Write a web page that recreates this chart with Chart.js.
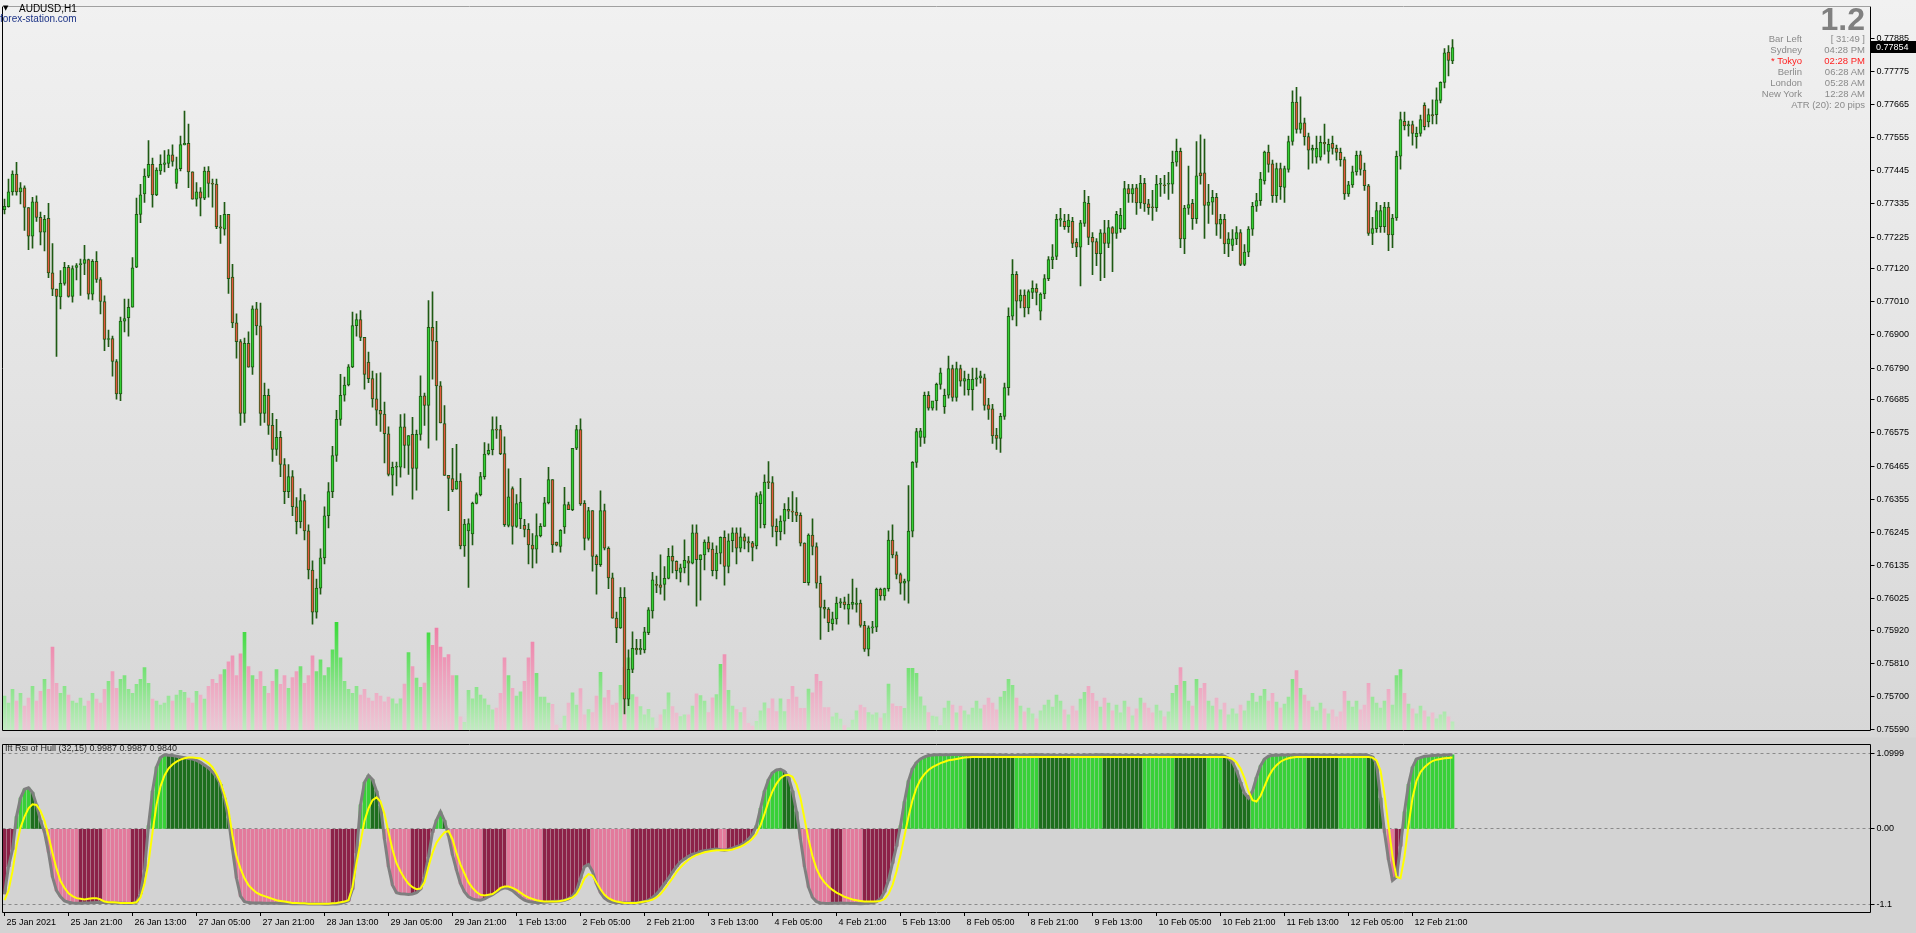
<!DOCTYPE html>
<html>
<head>
<meta charset="utf-8">
<title>AUDUSD,H1</title>
<script src="https://cdn.jsdelivr.net/npm/chart.js@4.4.1/dist/chart.umd.min.js"></script>
<style>
html, body { margin: 0; padding: 0; }
body {
  width: 1916px; height: 933px; overflow: hidden; position: relative;
  background: linear-gradient(to bottom, #f1f1f1 0px, #d7d7d7 737px, #d3d3d3 738px, #d3d3d3 933px);
  font-family: "Liberation Sans", Arial, sans-serif;
}
canvas { position: absolute; left: 0; }
#main { top: 0; }
#ind { top: 738px; }
.t { position: absolute; white-space: nowrap; line-height: 11px; font-size: 9.5px; }
#sym { left: 19px; top: 3px; font-size: 10px; color: #000; }
#tri { left: 3px; top: 3px; font-family: "DejaVu Sans"; font-size: 7px; color: #000; }
#site { left: 0px; top: 13px; font-size: 10px; color: #1b3286; }
#big { right: 51px; top: 3px; font-size: 32px; line-height: 32px; font-weight: bold; color: #808080; }
#legend { left: 5px; top: 743px; font-size: 9px; color: #1e1e1e; }
</style>
</head>
<body>
<canvas id="main" width="1916" height="738"></canvas>
<canvas id="ind" width="1916" height="195"></canvas>
<div class="t" id="tri">▼</div>
<div class="t" id="sym">AUDUSD,H1</div>
<div class="t" id="site">forex-station.com</div>
<div class="t" id="big">1.2</div>
<div class="t" id="legend">Ift Rsi of Hull (32,15) 0.9987 0.9987 0.9840</div>
<div id="info"></div>
<script>
// hourly AUDUSD bars
var opens = [
.77316,.77326,.77375,.77434,.77375,.77388,.77323,.77228,.77342,.77290,
.77241,.77287,.77106,.77052,.77026,.77071,.77124,.77028,.77124,.77133,
.77137,.77150,.77035,.77144,.77084,.77011,.76885,.76888,.76812,.76704,
.76946,.76957,.76992,.77125,.77300,.77368,.77427,.77466,.77365,.77444,
.77466,.77469,.77498,.77403,.77452,.77531,.77536,.77441,.77351,.77375,
.77354,.77444,.77403,.77401,.77259,.77251,.77300,.77092,.76940,.76878,
.76640,.76872,.76793,.76987,.76930,.76640,.76700,.76600,.76520,.76560,
.76470,.76380,.76430,.76330,.76280,.76350,.76250,.76120,.75980,.76060,
.76160,.76300,.76380,.76500,.76620,.76700,.76734,.76794,.76931,.76951,
.76892,.76810,.76755,.76688,.76650,.76637,.76572,.76435,.76461,.76461,
.76595,.76533,.76570,.76457,.76570,.76698,.76666,.76925,.76879,.76731,
.76606,.76434,.76423,.76388,.76415,.76200,.76250,.76240,.76341,.76370,
.76430,.76505,.76519,.76586,.76586,.76506,.76268,.76390,.76265,.76290,
.76268,.76255,.76203,.76189,.76234,.76265,.76343,.76420,.76213,.76198,
.76263,.76337,.76320,.76524,.76586,.76341,.76225,.76317,.76165,.76138,
.76317,.76192,.76094,.75960,.75928,.76029,.75691,.75790,.75860,.75855,
.75855,.75912,.75984,.76070,.76071,.76072,.76092,.76165,.76149,.76112,
.76127,.76150,.76143,.76243,.76154,.76170,.76213,.76189,.76118,.76176,
.76228,.76132,.76217,.76243,.76192,.76230,.76214,.76210,.76200,.76340,
.76270,.76412,.76410,.76265,.76247,.76282,.76321,.76315,.76312,.76301,
.76209,.76078,.76236,.76198,.76076,.75996,.75990,.75942,.75958,.76010,
.76014,.75990,.76006,.76006,.76010,.75936,.75857,.75928,.75930,.76056,
.76034,.76058,.76219,.76170,.76105,.76076,.76083,.76249,.76477,.76560,
.76560,.76700,.76657,.76682,.76736,.76662,.76700,.76788,.76693,.76788,
.76747,.76718,.76718,.76753,.76758,.76758,.76668,.76655,.76568,.76557,
.76630,.76725,.76962,.77101,.77012,.77032,.76990,.77041,.77055,.76979,
.77036,.77087,.77150,.77161,.77281,.77277,.77259,.77277,.77207,.77191,
.77270,.77337,.77224,.77210,.77170,.77239,.77204,.77256,.77237,.77253,
.77253,.77386,.77368,.77388,.77338,.77403,.77335,.77324,.77322,.77400,
.77397,.77400,.77400,.77473,.77509,.77219,.77321,.77337,.77286,.77438,
.77438,.77330,.77341,.77357,.77268,.77284,.77202,.77197,.77219,.77240,
.77134,.77175,.77251,.77327,.77346,.77411,.77507,.77468,.77362,.77452,
.77390,.77449,.77542,.77673,.77582,.77604,.77558,.77513,.77490,.77490,
.77539,.77509,.77536,.77519,.77506,.77482,.77368,.77398,.77441,.77498,
.77447,.77395,.77237,.77253,.77259,.77259,.77324,.77232,.77288,.77493,
.77609,.77594,.77598,.77558,.77569,.77662,.77607,.77631,.77631,.77678,
.77738,.77839,.77809];

var highs = [
.77351,.77417,.77445,.77473,.77406,.77395,.77323,.77357,.77362,.77308,
.77297,.77337,.77203,.77052,.77114,.77141,.77131,.77129,.77137,.77152,
.77197,.77152,.77150,.77177,.77090,.77030,.76916,.76896,.76818,.76959,
.77019,.77019,.77157,.77354,.77400,.77451,.77545,.77487,.77455,.77498,
.77512,.77515,.77531,.77490,.77560,.77643,.77600,.77441,.77406,.77389,
.77457,.77459,.77417,.77417,.77297,.77340,.77300,.77134,.76970,.76885,
.76890,.76910,.76997,.77008,.77006,.76740,.76720,.76640,.76620,.76580,
.76490,.76470,.76450,.76360,.76390,.76370,.76270,.76150,.76090,.76190,
.76330,.76410,.76530,.76650,.76769,.76760,.76802,.76976,.76970,.76981,
.76892,.76843,.76780,.76772,.76774,.76677,.76595,.76478,.76478,.76636,
.76638,.76566,.76627,.76584,.76764,.76707,.77014,.77043,.76945,.76745,
.76666,.76434,.76524,.76537,.76440,.76288,.76290,.76345,.76376,.76444,
.76543,.76539,.76628,.76628,.76600,.76562,.76456,.76396,.76370,.76424,
.76288,.76274,.76241,.76306,.76274,.76361,.76461,.76420,.76213,.76254,
.76394,.76345,.76524,.76600,.76622,.76350,.76328,.76317,.76170,.76383,
.76339,.76197,.76110,.75980,.76062,.76062,.75855,.75915,.75890,.75890,
.75930,.75995,.76112,.76100,.76170,.76131,.76192,.76200,.76150,.76140,
.76220,.76165,.76270,.76270,.76170,.76220,.76230,.76210,.76200,.76230,
.76250,.76240,.76260,.76260,.76260,.76240,.76230,.76215,.76376,.76380,
.76436,.76480,.76430,.76290,.76300,.76340,.76360,.76380,.76360,.76310,
.76210,.76240,.76290,.76210,.76100,.76020,.75995,.75980,.76030,.76025,
.76030,.76040,.76090,.76060,.76020,.75950,.75935,.75950,.76060,.76060,
.76060,.76250,.76270,.76180,.76110,.76090,.76400,.76480,.76590,.76590,
.76710,.76712,.76680,.76740,.76790,.76720,.76830,.76800,.76810,.76800,
.76780,.76770,.76790,.76790,.76780,.76770,.76690,.76670,.76590,.76640,
.76740,.76990,.77150,.77110,.77050,.77050,.77050,.77080,.77070,.77040,
.77100,.77160,.77200,.77300,.77320,.77300,.77300,.77290,.77220,.77280,
.77380,.77360,.77240,.77220,.77250,.77280,.77280,.77260,.77310,.77320,
.77410,.77400,.77400,.77400,.77430,.77420,.77350,.77380,.77430,.77420,
.77430,.77440,.77510,.77550,.77520,.77330,.77460,.77350,.77542,.77564,
.77550,.77400,.77380,.77370,.77300,.77300,.77240,.77250,.77260,.77250,
.77200,.77260,.77340,.77370,.77440,.77510,.77530,.77480,.77470,.77470,
.77460,.77560,.77710,.77722,.77690,.77620,.77570,.77530,.77560,.77560,
.77600,.77550,.77560,.77530,.77520,.77490,.77410,.77460,.77510,.77510,
.77470,.77400,.77290,.77340,.77330,.77340,.77340,.77300,.77510,.77640,
.77640,.77610,.77610,.77590,.77630,.77670,.77650,.77680,.77720,.77740,
.77850,.77860,.77880];

var lows = [
.77302,.77324,.77364,.77364,.77335,.77247,.77183,.77188,.77277,.77199,
.77179,.77090,.77030,.76829,.76986,.77065,.77025,.77009,.77083,.77031,
.77100,.77019,.77016,.77074,.76970,.76848,.76861,.76763,.76687,.76682,
.76910,.76896,.76992,.77123,.77273,.77340,.77422,.77324,.77362,.77433,
.77441,.77455,.77460,.77386,.77444,.77531,.77389,.77351,.77327,.77295,
.77349,.77357,.77324,.77253,.77204,.77231,.77038,.76924,.76823,.76600,
.76610,.76793,.76769,.76900,.76600,.76610,.76570,.76480,.76500,.76430,
.76340,.76360,.76300,.76240,.76260,.76220,.76090,.75940,.75960,.76040,
.76140,.76260,.76360,.76480,.76600,.76680,.76731,.76791,.76896,.76881,
.76720,.76742,.76660,.76600,.76580,.76475,.76432,.76368,.76399,.76428,
.76459,.76437,.76355,.76385,.76551,.76600,.76524,.76753,.76551,.76608,
.76434,.76317,.76380,.76388,.76190,.76165,.76062,.76203,.76339,.76366,
.76421,.76502,.76502,.76557,.76503,.76265,.76263,.76206,.76261,.76257,
.76230,.76140,.76127,.76143,.76230,.76265,.76339,.76178,.76200,.76179,
.76241,.76320,.76317,.76519,.76334,.76187,.76219,.76116,.76040,.76132,
.76187,.76058,.75960,.75879,.75926,.75642,.75670,.75779,.75840,.75840,
.75845,.75905,.75960,.76045,.76040,.76020,.76090,.76110,.76090,.76080,
.76110,.76070,.76140,.76000,.76020,.76120,.76180,.76100,.76090,.76140,
.76070,.76110,.76180,.76140,.76180,.76190,.76180,.76150,.76190,.76260,
.76260,.76390,.76230,.76200,.76220,.76240,.76290,.76280,.76280,.76200,
.76080,.76070,.76170,.76060,.75890,.75960,.75915,.75920,.75940,.75995,
.75990,.75940,.75990,.75980,.75930,.75850,.75835,.75910,.75915,.76020,
.76020,.76050,.76160,.76090,.76040,.76020,.76010,.76230,.76460,.76530,
.76540,.76650,.76650,.76650,.76720,.76640,.76690,.76680,.76680,.76730,
.76700,.76700,.76650,.76730,.76740,.76650,.76620,.76540,.76520,.76510,
.76620,.76700,.76950,.76930,.76990,.76960,.76970,.77020,.77000,.76950,
.77020,.77080,.77120,.77150,.77260,.77250,.77240,.77190,.77160,.77063,
.77260,.77200,.77100,.77130,.77080,.77090,.77190,.77110,.77220,.77240,
.77250,.77340,.77340,.77300,.77320,.77310,.77300,.77280,.77310,.77360,
.77370,.77350,.77370,.77460,.77190,.77170,.77300,.77250,.77270,.77400,
.77220,.77270,.77300,.77230,.77220,.77170,.77160,.77180,.77200,.77130,
.77130,.77160,.77230,.77310,.77330,.77400,.77440,.77340,.77340,.77350,
.77340,.77440,.77530,.77570,.77570,.77530,.77450,.77470,.77470,.77480,
.77500,.77470,.77500,.77480,.77460,.77350,.77360,.77390,.77430,.77430,
.77380,.77230,.77200,.77240,.77240,.77240,.77180,.77190,.77280,.77450,
.77580,.77560,.77530,.77520,.77560,.77580,.77590,.77600,.77600,.77670,
.77720,.77760,.77800];

var closes = [
.77327,.77375,.77434,.77375,.77388,.77323,.77228,.77342,.77290,.77241,
.77284,.77106,.77052,.77028,.77071,.77124,.77028,.77120,.77130,.77137,
.77150,.77035,.77144,.77084,.77011,.76885,.76888,.76812,.76704,.76946,
.76954,.76992,.77123,.77300,.77365,.77427,.77466,.77365,.77447,.77466,
.77471,.77498,.77476,.77451,.77532,.77536,.77441,.77351,.77375,.77354,
.77444,.77403,.77400,.77259,.77254,.77300,.77087,.76940,.76878,.76640,
.76872,.76793,.76987,.76930,.76640,.76700,.76600,.76520,.76560,.76470,
.76380,.76430,.76330,.76280,.76350,.76250,.76120,.75980,.76060,.76160,
.76300,.76380,.76500,.76620,.76700,.76734,.76794,.76931,.76951,.76892,
.76769,.76755,.76688,.76650,.76637,.76572,.76437,.76461,.76462,.76595,
.76533,.76566,.76457,.76570,.76697,.76666,.76925,.76879,.76731,.76608,
.76434,.76424,.76386,.76415,.76200,.76272,.76274,.76341,.76370,.76430,
.76505,.76517,.76586,.76584,.76506,.76270,.76363,.76265,.76340,.76345,
.76255,.76203,.76189,.76234,.76265,.76343,.76420,.76203,.76202,.76252,
.76337,.76320,.76524,.76586,.76339,.76225,.76317,.76165,.76138,.76317,
.76192,.76094,.75960,.75928,.76029,.75691,.75790,.75860,.75855,.75860,
.75915,.75988,.76087,.76069,.76062,.76092,.76165,.76149,.76118,.76127,
.76152,.76143,.76243,.76154,.76170,.76213,.76189,.76118,.76176,.76228,
.76132,.76217,.76243,.76192,.76230,.76216,.76210,.76195,.76366,.76370,
.76412,.76410,.76265,.76247,.76282,.76321,.76315,.76312,.76301,.76209,
.76078,.76236,.76198,.76076,.75996,.75990,.75945,.75958,.76010,.76014,
.76004,.76006,.76013,.76010,.75936,.75857,.75928,.75930,.76056,.76034,
.76058,.76219,.76170,.76105,.76076,.76083,.76249,.76477,.76579,.76582,
.76700,.76657,.76681,.76736,.76774,.76700,.76788,.76693,.76788,.76747,
.76755,.76753,.76753,.76758,.76764,.76666,.76653,.76565,.76557,.76630,
.76725,.76962,.77101,.77012,.77032,.76990,.77044,.77055,.77041,.77036,
.77087,.77150,.77159,.77284,.77286,.77259,.77281,.77204,.77191,.77272,
.77341,.77224,.77208,.77170,.77239,.77204,.77256,.77237,.77300,.77297,
.77386,.77368,.77386,.77338,.77403,.77335,.77322,.77322,.77400,.77403,
.77395,.77403,.77473,.77509,.77219,.77321,.77333,.77286,.77428,.77428,
.77330,.77341,.77357,.77268,.77284,.77202,.77219,.77219,.77240,.77134,
.77175,.77251,.77327,.77346,.77417,.77507,.77466,.77362,.77452,.77392,
.77452,.77542,.77673,.77582,.77604,.77558,.77513,.77519,.77519,.77539,
.77534,.77533,.77519,.77506,.77482,.77368,.77398,.77441,.77496,.77449,
.77395,.77237,.77253,.77313,.77313,.77324,.77232,.77288,.77493,.77615,
.77594,.77598,.77569,.77569,.77615,.77591,.77631,.77627,.77680,.77738,
.77836,.77811,.77854];

// tick volume (arbitrary units)
var volumes = [
350,280,420,300,380,250,330,450,300,400,
520,420,850,480,380,450,360,300,280,330,
250,300,380,320,280,420,500,600,430,520,
560,420,380,470,520,640,480,320,300,260,
280,350,300,360,410,390,330,280,400,360,
320,450,520,480,570,620,700,760,560,780,
1000,650,560,520,600,450,380,500,620,470,
560,430,540,600,650,480,560,760,600,720,
560,640,820,1100,740,500,420,380,450,360,
420,330,300,380,350,293,340,323,273,323,
473,793,650,533,440,483,993,867,1043,850,
743,773,560,560,140,83,410,323,440,360,
323,260,210,230,380,740,560,430,350,393,
500,740,900,583,340,340,280,267,57,23,
147,280,383,260,427,160,213,183,350,593,
333,410,260,280,460,640,740,367,340,243,
160,217,130,23,160,213,383,243,177,143,
160,160,250,373,357,300,183,333,367,673,
773,410,250,213,183,233,73,47,93,200,
283,223,323,193,323,193,317,450,340,227,
227,423,383,573,500,233,233,140,177,117,
50,27,107,200,260,233,183,160,180,127,
173,473,273,247,247,227,633,633,583,343,
253,183,147,140,50,230,300,260,180,250,
200,160,230,300,220,260,330,280,210,340,
400,520,460,330,250,190,230,170,120,200,
260,310,240,360,300,210,160,250,200,320,
390,450,380,300,240,330,280,200,260,180,
300,240,150,220,330,280,230,180,260,200,
140,190,380,460,640,500,300,250,520,430,
480,300,250,330,210,280,160,220,170,260,
200,300,380,290,350,420,300,380,290,230,
270,340,520,610,430,360,300,240,200,280,
220,170,210,140,190,400,300,240,300,210,
260,480,340,280,230,300,420,260,560,620,
380,270,220,170,250,200,140,180,120,160,
190,140,90];

// Ift Rsi of Hull (32,15): histogram and signal
var ift = [
-0.95,-0.55,-0.30,0.18,0.45,0.58,0.60,0.53,0.35,0.12,
-0.05,-0.34,-0.70,-0.90,-0.99,-1.05,-1.07,-1.08,-1.085,-1.083,
-1.081,-1.079,-1.077,-1.075,-1.073,-1.075,-1.077,-1.079,-1.081,-1.083,
-1.085,-1.087,-1.085,-1.07,-0.95,-0.60,0.05,0.55,0.90,1.04,
1.08,1.075,1.07,1.06,1.05,1.04,1.025,1.02,1.00,0.97,
0.93,0.89,0.83,0.76,0.65,0.45,0.15,-0.30,-0.72,-0.98,
-1.06,-1.075,-1.080,-1.081,-1.082,-1.083,-1.084,-1.085,-1.086,-1.087,
-1.088,-1.089,-1.090,-1.091,-1.092,-1.093,-1.094,-1.095,-1.096,-1.097,
-1.098,-1.099,-1.097,-1.094,-1.09,-1.07,-1.05,-0.88,-0.35,0.35,
0.68,0.78,0.72,0.55,0.33,-0.15,-0.55,-0.82,-0.93,-0.945,
-0.95,-0.955,-0.95,-0.93,-0.88,-0.70,-0.40,-0.05,0.13,0.25,
0.12,-0.10,-0.38,-0.60,-0.80,-0.92,-0.99,-1.02,-1.035,-1.04,
-1.02,-0.99,-0.96,-0.92,-0.88,-0.86,-0.87,-0.90,-0.95,-1.00,
-1.04,-1.06,-1.07,-1.072,-1.074,-1.07,-1.065,-1.06,-1.055,-1.05,
-1.04,-1.02,-0.98,-0.90,-0.72,-0.55,-0.52,-0.62,-0.80,-0.93,
-1.01,-1.05,-1.07,-1.075,-1.078,-1.08,-1.082,-1.08,-1.076,-1.07,
-1.06,-1.04,-1.00,-0.95,-0.88,-0.80,-0.72,-0.63,-0.55,-0.48,
-0.44,-0.40,-0.37,-0.36,-0.33,-0.32,-0.31,-0.30,-0.295,-0.305,
-0.31,-0.30,-0.28,-0.26,-0.24,-0.20,-0.15,-0.08,0.05,0.30,
0.55,0.72,0.82,0.86,0.87,0.84,0.75,0.55,0.25,-0.15,
-0.55,-0.85,-1.00,-1.06,-1.08,-1.085,-1.087,-1.085,-1.083,-1.081,
-1.083,-1.085,-1.087,-1.089,-1.09,-1.088,-1.085,-1.08,-1.06,-1.02,
-0.92,-0.75,-0.50,-0.25,0.05,0.40,0.70,0.88,0.97,1.02,
1.05,1.07,1.078,1.080,1.081,1.082,1.083,1.084,1.085,1.086,
1.087,1.086,1.085,1.084,1.083,1.082,1.081,1.080,1.079,1.078,
1.077,1.076,1.075,1.076,1.077,1.078,1.079,1.080,1.081,1.080,
1.079,1.078,1.077,1.076,1.075,1.074,1.073,1.074,1.075,1.076,
1.077,1.078,1.079,1.080,1.081,1.080,1.079,1.078,1.077,1.076,
1.075,1.074,1.073,1.072,1.071,1.072,1.073,1.074,1.075,1.076,
1.077,1.078,1.079,1.078,1.077,1.076,1.075,1.074,1.073,1.072,
1.071,1.072,1.073,1.074,1.075,1.06,1.03,0.97,0.85,0.68,
0.52,0.45,0.55,0.75,0.92,1.02,1.06,1.075,1.076,1.077,
1.078,1.079,1.080,1.081,1.082,1.083,1.082,1.081,1.080,1.079,
1.078,1.077,1.076,1.075,1.076,1.077,1.078,1.079,1.080,1.081,
1.082,1.07,1.05,0.95,0.45,-0.05,-0.45,-0.75,-0.70,-0.25,
0.25,0.65,0.90,1.02,1.04,1.06,1.065,1.07,1.073,1.076,
1.078,1.080,1.082];

var signal = [
-1.04,-0.90,-0.62,-0.25,0.02,0.18,0.30,0.36,0.35,0.26,
0.12,-0.10,-0.35,-0.58,-0.76,-0.86,-0.94,-0.98,-1.01,-1.02,
-1.03,-1.02,-1.01,-1.01,-1.03,-1.06,-1.07,-1.07,-1.075,-1.08,
-1.08,-1.08,-1.08,-1.07,-1.00,-0.80,-0.50,-0.05,0.35,0.62,
0.78,0.88,0.94,0.98,1.01,1.03,1.04,1.04,1.035,1.03,
1.00,0.96,0.90,0.80,0.68,0.50,0.28,-0.10,-0.40,-0.58,
-0.72,-0.82,-0.88,-0.93,-0.96,-0.98,-1.00,-1.02,-1.04,-1.05,
-1.06,-1.07,-1.08,-1.08,-1.085,-1.085,-1.09,-1.09,-1.09,-1.09,
-1.09,-1.09,-1.085,-1.08,-1.07,-1.06,-1.04,-0.85,-0.50,-0.20,
0.12,0.30,0.42,0.46,0.40,0.22,-0.05,-0.30,-0.50,-0.62,
-0.72,-0.80,-0.85,-0.88,-0.87,-0.78,-0.55,-0.35,-0.20,-0.12,
-0.05,-0.03,-0.15,-0.35,-0.52,-0.65,-0.78,-0.86,-0.92,-0.96,
-0.97,-0.96,-0.95,-0.91,-0.86,-0.84,-0.84,-0.86,-0.89,-0.93,
-0.97,-1.00,-1.02,-1.04,-1.05,-1.06,-1.06,-1.06,-1.06,-1.05,
-1.04,-1.02,-1.00,-0.95,-0.85,-0.72,-0.66,-0.68,-0.78,-0.88,
-0.96,-1.01,-1.04,-1.06,-1.07,-1.08,-1.08,-1.08,-1.08,-1.07,
-1.06,-1.05,-1.03,-1.00,-0.95,-0.88,-0.80,-0.72,-0.63,-0.56,
-0.50,-0.45,-0.41,-0.38,-0.36,-0.34,-0.33,-0.32,-0.31,-0.31,
-0.31,-0.31,-0.30,-0.28,-0.26,-0.23,-0.19,-0.14,-0.07,0.05,
0.22,0.40,0.55,0.66,0.74,0.78,0.79,0.76,0.65,0.45,
0.15,-0.15,-0.40,-0.58,-0.70,-0.78,-0.84,-0.89,-0.93,-0.96,
-0.99,-1.01,-1.03,-1.04,-1.05,-1.06,-1.06,-1.06,-1.06,-1.05,
-1.02,-0.95,-0.82,-0.62,-0.38,-0.10,0.18,0.42,0.60,0.72,
0.80,0.86,0.90,0.93,0.96,0.98,1.00,1.01,1.02,1.03,
1.04,1.045,1.05,1.05,1.05,1.05,1.05,1.05,1.05,1.05,
1.05,1.05,1.05,1.05,1.05,1.05,1.05,1.05,1.05,1.05,
1.05,1.05,1.05,1.05,1.05,1.05,1.05,1.05,1.05,1.05,
1.05,1.05,1.05,1.05,1.05,1.05,1.05,1.05,1.05,1.05,
1.05,1.05,1.05,1.05,1.05,1.05,1.05,1.05,1.05,1.05,
1.05,1.05,1.05,1.05,1.05,1.05,1.05,1.05,1.05,1.05,
1.05,1.05,1.05,1.05,1.05,1.05,1.04,1.02,0.97,0.88,
0.74,0.55,0.42,0.40,0.48,0.62,0.76,0.86,0.93,0.98,
1.01,1.03,1.04,1.05,1.05,1.05,1.05,1.05,1.05,1.05,
1.05,1.05,1.05,1.05,1.05,1.05,1.05,1.05,1.05,1.05,
1.05,1.05,1.04,1.00,0.85,0.50,0.05,-0.40,-0.70,-0.72,
-0.40,0.05,0.45,0.70,0.83,0.90,0.95,0.99,1.01,1.02,
1.03,1.035,1.04];

var timeLabels = ['25 Jan 2021','25 Jan 21:00','26 Jan 13:00','27 Jan 05:00','27 Jan 21:00',
  '28 Jan 13:00','29 Jan 05:00','29 Jan 21:00','1 Feb 13:00','2 Feb 05:00','2 Feb 21:00',
  '3 Feb 13:00','4 Feb 05:00','4 Feb 21:00','5 Feb 13:00','8 Feb 05:00','8 Feb 21:00',
  '9 Feb 13:00','10 Feb 05:00','10 Feb 21:00','11 Feb 13:00','12 Feb 05:00','12 Feb 21:00'];

var priceTicks = [0.77885,0.77775,0.77665,0.77555,0.77445,0.77335,0.77225,0.77120,0.77010,
  0.76900,0.76790,0.76685,0.76575,0.76465,0.76355,0.76245,0.76135,0.76025,0.75920,
  0.75810,0.75700,0.75590];

var levelValues = [1.0999, 0, -1.1];
var levelLabels = ['1.0999', '0.00', '-1.1'];

var infoRows = [['Bar Left','[ 31:49 ]'],['Sydney','04:28 PM'],['* Tokyo','02:28 PM'],
  ['Berlin','06:28 AM'],['London','05:28 AM'],['New York','12:28 AM']];
var atrText = 'ATR (20): 20 pips';

// ---------------------------------------------------------------
var SLOTS = 467;   // visible bar slots across the window
var slotLabels = [];
for (var i = 0; i < SLOTS; i++) slotLabels.push(i);
var timeIdx = timeLabels.map(function (_, k) { return k * 16; });

var EDGE = '#1f5a14';
var BULL = '#35cf35';
var BEAR = '#e4573f';

var up = closes.map(function (c, i) { return c >= opens[i]; });
var bodyData = opens.map(function (o, i) { return [o, closes[i]]; });
var wickData = lows.map(function (l, i) { return [l, highs[i]]; });

var histColors = ift.map(function (v, i) {
  var prev = i > 0 ? ift[i - 1] : v;
  var rising = v >= prev;
  if (v >= 0) return rising ? '#38d038' : '#1d6e1d';
  return rising ? '#8c2248' : '#e37a9c';
});

var gradCache = {};
function volColor(c) {
  var chart = c.chart, area = chart.chartArea;
  var key = up[c.dataIndex] ? 'g' : 'p';
  if (!area) return key == 'g' ? '#5ddc5d' : '#ee8fb0';
  if (!gradCache[key]) {
    var g = chart.ctx.createLinearGradient(0, area.bottom - 110, 0, area.bottom);
    if (key == 'g') { g.addColorStop(0, '#36d936'); g.addColorStop(1, '#c3ebc3'); }
    else { g.addColorStop(0, '#ef7aa4'); g.addColorStop(1, '#ecc9d6'); }
    gradCache[key] = g;
  }
  return gradCache[key];
}

// pane frame (+ current price box on the main pane)
var frame = {
  id: 'frame',
  afterDraw: function (chart, args, opts) {
    var a = chart.chartArea, ctx = chart.ctx;
    var x0 = Math.floor(a.left), x1 = Math.floor(a.right);
    var y0 = Math.floor(a.top) - 1, y1 = Math.floor(a.bottom);
    ctx.save();
    ctx.lineWidth = 1;
    ctx.strokeStyle = '#000';
    ctx.beginPath();
    ctx.moveTo(x0 + 0.5, y0 + 0.5);
    ctx.lineTo(x0 + 0.5, y1 + 0.5);
    ctx.lineTo(x1 + 0.5, y1 + 0.5);
    ctx.lineTo(x1 + 0.5, y0 + 0.5);
    ctx.stroke();
    ctx.strokeStyle = opts.price ? '#a0a0a0' : '#000';
    ctx.beginPath();
    ctx.moveTo(x0 + 0.5, y0 + 0.5);
    ctx.lineTo(x1 + 0.5, y0 + 0.5);
    ctx.stroke();
    if (opts.price) {
      var last = closes[closes.length - 1];
      var y = Math.round(chart.scales.y.getPixelForValue(last));
      ctx.fillStyle = '#000';
      ctx.fillRect(x1 + 1, y - 6, 1916 - x1 - 1, 12);
      ctx.fillStyle = '#fff';
      ctx.font = '9px "Liberation Sans"';
      ctx.textBaseline = 'middle';
      ctx.fillText(last.toFixed(5), x1 + 6, y + 0.5);
    }
    ctx.restore();
  }
};

Chart.defaults.font.family = '"Liberation Sans", Arial, sans-serif';
Chart.defaults.color = '#000';

var mainChart = new Chart(document.getElementById('main').getContext('2d'), {
  type: 'bar',
  data: {
    labels: slotLabels,
    datasets: [{
      label: 'body',
      data: bodyData,
      backgroundColor: up.map(function (u) { return u ? BULL : BEAR; }),
      borderColor: EDGE,
      borderWidth: 1,
      borderSkipped: false,
      barThickness: 3,
      minBarLength: 1,
      grouped: false,
      order: 0
    }, {
      label: 'wick',
      data: wickData,
      backgroundColor: EDGE,
      borderWidth: 0,
      barThickness: 1,
      grouped: false,
      order: 1
    }, {
      label: 'volume',
      data: volumes,
      yAxisID: 'yv',
      backgroundColor: volColor,
      borderWidth: 0,
      barThickness: 3,
      grouped: false,
      order: 2
    }]
  },
  options: {
    responsive: false,
    animation: false,
    devicePixelRatio: 1,
    events: [],
    layout: { padding: { left: 2.5, top: 2, right: 0, bottom: 1 } },
    plugins: { legend: { display: false }, tooltip: { enabled: false }, frame: { price: true } },
    scales: {
      x: { type: 'category', display: false, offset: true, grid: { display: false } },
      y: {
        position: 'right',
        min: 0.75587,
        max: 0.77987,
        afterBuildTicks: function (s) { s.ticks = priceTicks.map(function (v) { return { value: v }; }); },
        afterFit: function (s) { s.width = 45.5; },
        ticks: {
          autoSkip: false,
          padding: 2,
          font: { size: 9 },
          color: '#000',
          callback: function (v) { return v.toFixed(5); }
        },
        grid: { drawOnChartArea: false, drawTicks: true, tickLength: 4, tickColor: '#000' },
        border: { display: false }
      },
      yv: { display: false, min: 0, max: 7350 }
    }
  },
  plugins: [frame]
});

var indChart = new Chart(document.getElementById('ind').getContext('2d'), {
  type: 'bar',
  data: {
    labels: slotLabels,
    datasets: [{
      type: 'line',
      label: 'signal',
      data: signal,
      borderColor: '#ffff00',
      borderWidth: 2,
      pointRadius: 0,
      order: 0
    }, {
      type: 'line',
      label: 'ift',
      data: ift,
      borderColor: '#7f7f7f',
      borderWidth: 3,
      pointRadius: 0,
      order: 1
    }, {
      label: 'hist',
      data: ift,
      backgroundColor: histColors,
      borderWidth: 0,
      barThickness: 3,
      grouped: false,
      order: 2
    }]
  },
  options: {
    responsive: false,
    animation: false,
    devicePixelRatio: 1,
    events: [],
    layout: { padding: { left: 2.5, top: 2, right: 0, bottom: 0 } },
    plugins: { legend: { display: false }, tooltip: { enabled: false }, frame: { price: false } },
    scales: {
      x: {
        type: 'category',
        offset: true,
        afterBuildTicks: function (s) {
          s.ticks = s.ticks.filter(function (t) { return timeIdx.indexOf(t.value) >= 0; });
        },
        afterFit: function (s) { s.height = 21; },
        ticks: {
          autoSkip: false,
          maxRotation: 0,
          minRotation: 0,
          align: 'start',
          padding: 1,
          labelOffset: 2,
          font: { size: 9 },
          color: '#000',
          callback: function (v) { return timeLabels[timeIdx.indexOf(v)]; }
        },
        grid: { offset: false, drawOnChartArea: false, drawTicks: true, tickLength: 4, tickColor: '#000' },
        border: { display: false }
      },
      y: {
        position: 'right',
        min: -1.212,
        max: 1.218,
        afterBuildTicks: function (s) { s.ticks = levelValues.map(function (v) { return { value: v }; }); },
        afterFit: function (s) { s.width = 45.5; },
        ticks: {
          autoSkip: false,
          padding: 2,
          font: { size: 9 },
          color: '#000',
          callback: function (v) { return levelLabels[levelValues.indexOf(v)]; }
        },
        grid: { color: '#8a8a8a', drawOnChartArea: true, drawTicks: true, tickLength: 4, tickColor: '#000' },
        border: { display: false, dash: [3, 3] }
      }
    }
  },
  plugins: [frame]
});

// info block, top right
var info = document.getElementById('info');
infoRows.forEach(function (r, k) {
  var top = 33 + k * 11;
  var color = r[0].charAt(0) == '*' ? '#ff2020' : '#8a8a8a';
  info.insertAdjacentHTML('beforeend',
    '<div class="t" style="right:114px;top:' + top + 'px;color:' + color + '">' + r[0] + '</div>' +
    '<div class="t" style="right:51px;top:' + top + 'px;color:' + color + '">' + r[1] + '</div>');
});
info.insertAdjacentHTML('beforeend',
  '<div class="t" style="right:51px;top:' + (33 + 6 * 11) + 'px;color:#8a8a8a">' + atrText + '</div>');
</script>
</body>
</html>
